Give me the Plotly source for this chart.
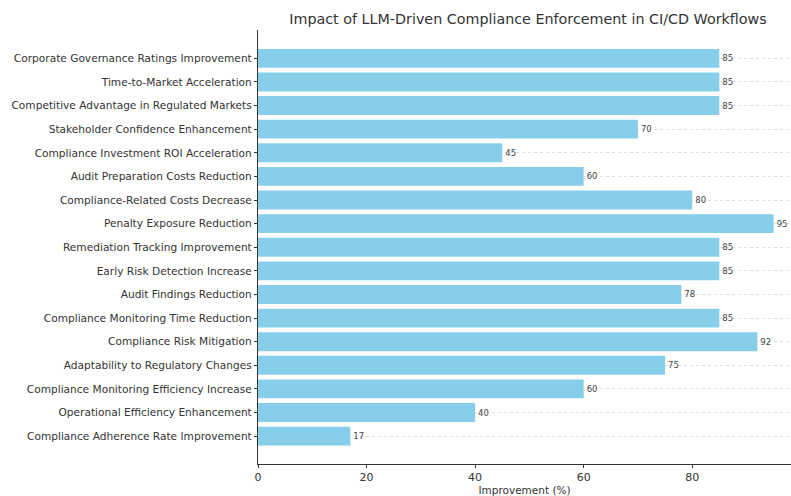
import plotly.graph_objects as go

categories = [
    "Compliance Adherence Rate Improvement",
    "Operational Efficiency Enhancement",
    "Compliance Monitoring Efficiency Increase",
    "Adaptability to Regulatory Changes",
    "Compliance Risk Mitigation",
    "Compliance Monitoring Time Reduction",
    "Audit Findings Reduction",
    "Early Risk Detection Increase",
    "Remediation Tracking Improvement",
    "Penalty Exposure Reduction",
    "Compliance-Related Costs Decrease",
    "Audit Preparation Costs Reduction",
    "Compliance Investment ROI Acceleration",
    "Stakeholder Confidence Enhancement",
    "Competitive Advantage in Regulated Markets",
    "Time-to-Market Acceleration",
    "Corporate Governance Ratings Improvement",
]
values = [17, 40, 60, 75, 92, 85, 78, 85, 85, 95, 80, 60, 45, 70, 85, 85, 85]
x_ticks = [0, 20, 40, 60, 80]

FONT = "DejaVu Sans, Liberation Sans, sans-serif"

fig = go.Figure(
    go.Bar(
        x=values,
        y=categories,
        orientation="h",
        marker=dict(color="#87CEEB", line=dict(width=0)),
        width=0.8,
        text=[str(v) for v in values],
        textposition="outside",
        textfont=dict(size=8.5, color="#444444", family=FONT),
        cliponaxis=False,
        constraintext="none",
    )
)

fig.update_layout(
    width=791,
    height=496,
    margin=dict(l=258, r=0, t=30, b=29),
    paper_bgcolor="white",
    plot_bgcolor="white",
    font=dict(family=FONT, color="#333333", size=10.6),
    showlegend=False,
    title=dict(
        text="Impact of LLM-Driven Compliance Enforcement in CI/CD Workflows",
        x=0.6675,
        xanchor="center",
        y=0.962,
        yanchor="middle",
        font=dict(size=14.3, color="#333333", family=FONT),
    ),
    bargap=0.2,
)

fig.update_xaxes(
    range=[0, 98.2],
    tickvals=x_ticks,
    ticks="outside",
    ticklen=3,
    tickcolor="#333333",
    showline=True,
    linecolor="#333333",
    linewidth=1.2,
    showgrid=False,
    zeroline=False,
    tickfont=dict(size=11, color="#333333"),
    title=dict(text="Improvement (%)", font=dict(size=10.5, color="#333333"), standoff=4),
)

fig.update_yaxes(
    type="category",
    categoryorder="array",
    categoryarray=categories,
    range=[-1.18, 17.2],
    ticks="outside",
    ticklen=3,
    tickcolor="#333333",
    showline=True,
    linecolor="#333333",
    linewidth=1.2,
    showgrid=True,
    gridcolor="#dddddd",
    griddash="dot",
    gridwidth=1,
    zeroline=False,
    tickfont=dict(size=10.6, color="#333333"),
)

fig.write_html("out.html")
